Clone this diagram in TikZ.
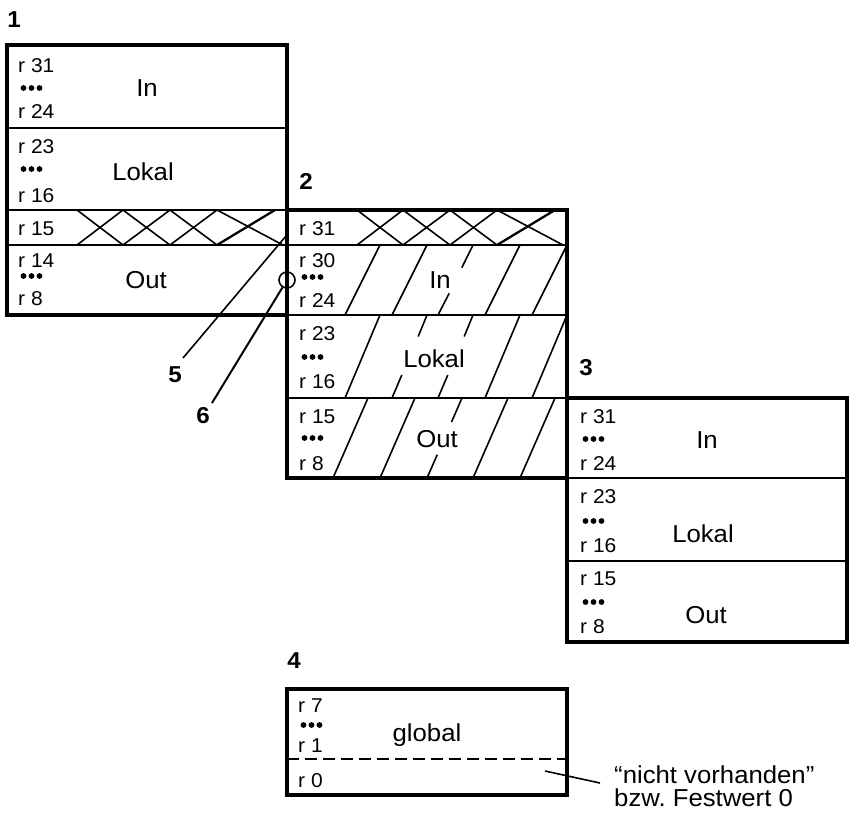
\documentclass[tikz,border=0pt]{standalone}
\usepackage{fontspec}
\setmainfont[FakeStretch=1.05]{Liberation Sans}
\usetikzlibrary{calc}
\frenchspacing
\tikzset{
  frame/.style={line width=3.4pt},
  divider/.style={line width=2.2pt},
  hatch/.style={line width=1.6pt},
  leader/.style={line width=1.6pt},
  regtext/.style={anchor=base west, inner sep=0pt, font=\fontsize{20}{24}\selectfont},
  areatext/.style={anchor=base, inner sep=0pt, font=\fontsize{24.5}{29}\selectfont},
  winnum/.style={inner sep=0pt, font=\fontsize{23}{27}\selectfont\bfseries},
}
% three bullets standing for the omitted registers
\newcommand\tripledot[2]{\foreach \k in {0,1,2}{\fill ({#1+5.5+8*\k},#2) circle[radius=2.9pt];}}
\begin{document}
\begin{tikzpicture}[x=1pt,y=-1pt]
\useasboundingbox (0,0) rectangle (853,814);

% ---- overlapping register r15 / r31: cross hatching ----
\foreach \o in {0,280}{
  \draw[hatch] ({77+\o},210) -- ({123+\o},245) -- ({170+\o},210) -- ({217+\o},245) -- ({275+\o},210);
  \draw[hatch] ({77+\o},245) -- ({123+\o},210) -- ({170+\o},245) -- ({217+\o},210) -- ({283+\o},245);
  \draw[line width=2.2pt] ({217+\o},245) -- ({275+\o},210);
}

% ---- window 2: diagonal hatching ----
% In
\foreach \b in {345,392,485,532} \draw[hatch] (\b,315) -- ({\b+35},245);
\draw[hatch] (438,315) -- (449.2,293.3) (461.8,267.7) -- (473,245);
% Lokal
\foreach \b in {345,485,532} \draw[hatch] (\b,398) -- ({\b+35},315);
\draw[hatch] (392,398) -- (401.8,375) (418.2,336.5) -- (427,315);
\draw[hatch] (438,398) -- (447.8,375) (464.2,336.5) -- (473,315);
% Out
\foreach \b in {333,380,473,520} \draw[hatch] (\b,478) -- ({\b+35},398);
\draw[hatch] (427,478) -- (437.2,454.8) (451.5,422) -- (462,398);

% ---- window 1 ----
\draw[divider] (7,128) -- (287,128) (7,210) -- (287,210) (7,245) -- (287,245);
\draw[frame] (7,45) rectangle (287,315);
% ---- window 2 ----
\draw[divider] (287,245) -- (567,245) (287,315) -- (567,315) (287,398) -- (567,398);
\draw[frame] (287,210) rectangle (567,478);
% ---- window 3 ----
\draw[divider] (567,478) -- (847,478) (567,561) -- (847,561);
\draw[frame] (567,398) rectangle (847,642);
% ---- window 4 (global) ----
\draw[line width=2pt, dash pattern=on 12pt off 6pt] (287,759) -- (567,759);
\draw[frame] (287,689) rectangle (567,795);

% ---- window numbers ----
\node[winnum] (n1) at (14,20) {1};
\node[winnum] (n2) at (306,181) {2};
\node[winnum] (n3) at (586,368) {3};
\node[winnum] (n4) at (294,661) {4};
\node[winnum] (n5) at (175,375) {5};
\node[winnum] (n6) at (203,416) {6};

% ---- register names ----
\node[regtext] (a1) at (18,72) {r 31};
\node[regtext] (a2) at (18,118) {r 24};
\node[regtext] (a3) at (18,153) {r 23};
\node[regtext] (a4) at (18,202) {r 16};
\node[regtext] (a5) at (18,235) {r 15};
\node[regtext] (a6) at (18,267) {r 14};
\node[regtext] (a7) at (18,305) {r 8};
\tripledot{18}{88}\tripledot{18}{169}\tripledot{18}{276}

\node[regtext] (b1) at (299,235) {r 31};
\node[regtext] (b2) at (299,267) {r 30};
\node[regtext] (b3) at (299,307) {r 24};
\node[regtext] (b4) at (299,340) {r 23};
\node[regtext] (b5) at (299,388) {r 16};
\node[regtext] (b6) at (299,423) {r 15};
\node[regtext] (b7) at (299,470) {r 8};
\tripledot{299}{277}\tripledot{299}{357}\tripledot{299}{438}

\node[regtext] (c1) at (580,423) {r 31};
\node[regtext] (c2) at (580,470) {r 24};
\node[regtext] (c3) at (580,503) {r 23};
\node[regtext] (c4) at (580,552) {r 16};
\node[regtext] (c5) at (580,585) {r 15};
\node[regtext] (c6) at (580,633) {r 8};
\tripledot{580}{439}\tripledot{580}{521}\tripledot{580}{602}

\node[regtext] (d1) at (298,712) {r 7};
\node[regtext] (d2) at (298,752) {r 1};
\node[regtext] (d3) at (298,787) {r 0};
\tripledot{298}{725}

% ---- area names ----
\node[areatext] (w1in) at (147,96) {In};
\node[areatext] (w1lo) at (143,180) {Lokal};
\node[areatext] (w1out) at (146,288) {Out};
\node[areatext] (w2in) at (440,288) {In};
\node[areatext] (w2lo) at (434,367) {Lokal};
\node[areatext] (w2out) at (437,447) {Out};
\node[areatext] (w3in) at (707,448) {In};
\node[areatext] (w3lo) at (703,542) {Lokal};
\node[areatext] (w3out) at (706,623) {Out};
\node[areatext] (glob) at (427,741) {global};

% ---- leaders ----
\node[circle, draw, line width=1.6pt, minimum size=16pt, inner sep=0pt] (ring) at (287,280) {};
\coordinate (l5a) at (183,358);
\coordinate (l5b) at (286,236);
\coordinate (l6a) at (212,403);
\draw[leader] (l5a) -- (l5b);
\draw[leader, line width=2pt] (l6a) -- (ring);

% ---- note on r0 ----
\node[areatext, anchor=base west] (note1) at (614,783) {“nicht vorhanden”};
\node[areatext, anchor=base west] (note2) at (614,806) {bzw. Festwert 0};
\coordinate (r0mark) at (545,771);
\coordinate (notetip) at (600,783);
\draw[leader] (r0mark) -- (notetip);
\end{tikzpicture}
\end{document}
